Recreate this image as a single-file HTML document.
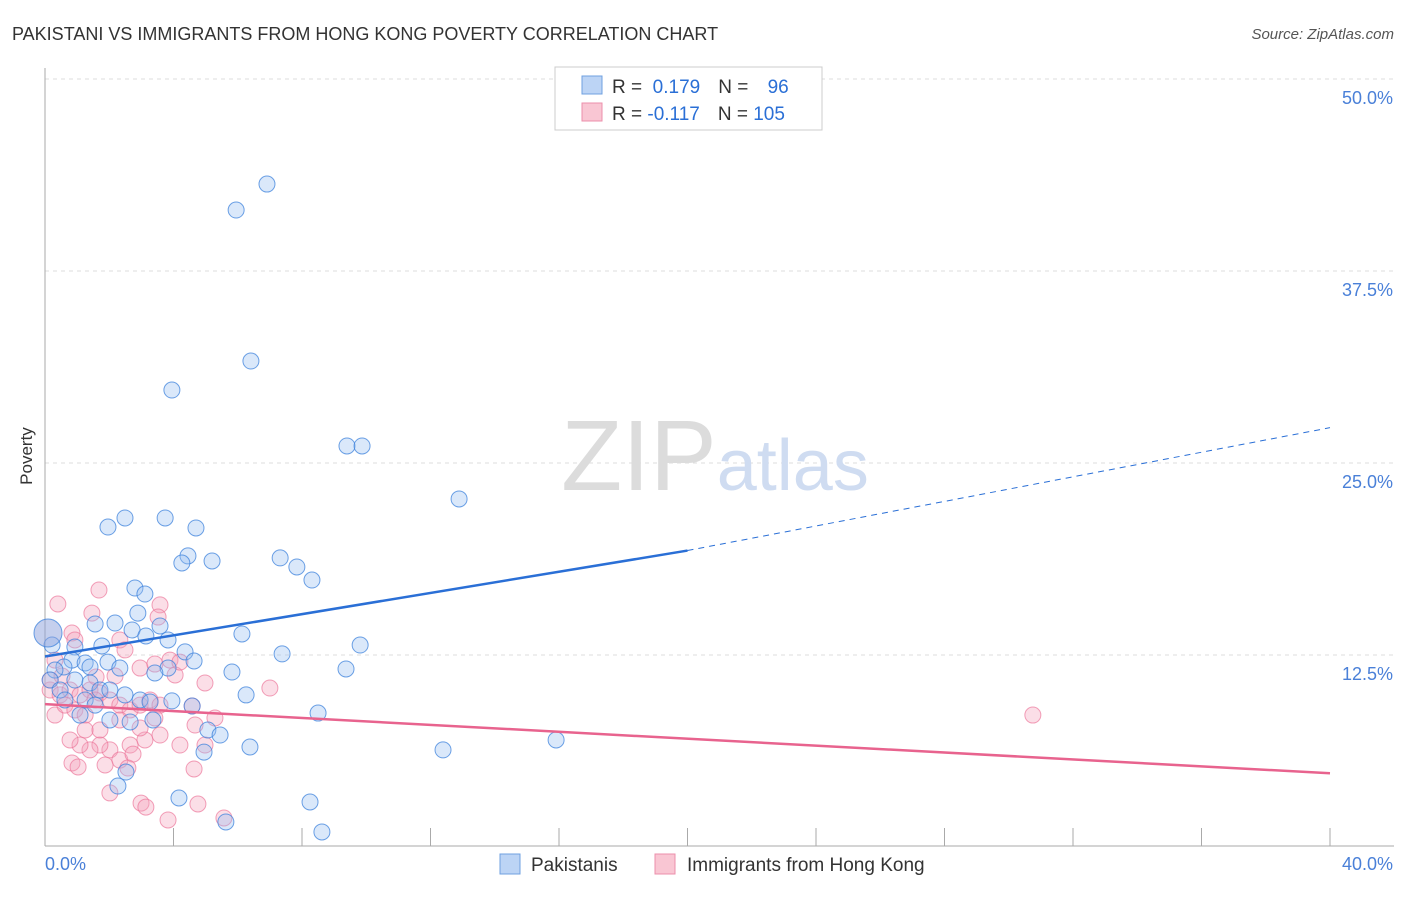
<!DOCTYPE html>
<html><head><meta charset="utf-8"><style>
body{margin:0;background:#fff;font-family:"Liberation Sans",sans-serif}
svg text{font-family:"Liberation Sans",sans-serif}
</style></head><body>
<svg width="1406" height="892">
<text x="12" y="40" font-size="18" fill="#333">PAKISTANI VS IMMIGRANTS FROM HONG KONG POVERTY CORRELATION CHART</text>
<text x="1394" y="39" font-size="15" fill="#555" text-anchor="end" font-style="italic">Source: ZipAtlas.com</text>
<g id="grid"></g>
<text x="715" y="490" font-size="100" fill="#ddd" text-anchor="middle" font-family="Liberation Serif"><tspan fill="#dcdcdc">ZIP</tspan><tspan fill="#cfdcf1" font-family="Liberation Sans" font-size="72">atlas</tspan></text>
<text x="32" y="456" font-size="17" fill="#333" text-anchor="middle" transform="rotate(-90 32 456)">Poverty</text>
<g id="pts"></g>
<g id="lines"></g>
<g>
<rect x="555" y="67" width="267" height="63" fill="#fff" stroke="#ccc"/>
<rect x="582" y="76" width="20" height="18" fill="#bcd4f5" stroke="#6fa0e0"/>
<rect x="582" y="103" width="20" height="18" fill="#f9c6d3" stroke="#ec8fab"/>
<text x="612" y="93" font-size="19" fill="#333">R = <tspan fill="#2a6fd6">&#160;0.179</tspan><tspan dx="18" fill="#333">N = </tspan><tspan dx="14" fill="#2a6fd6">96</tspan></text>
<text x="612" y="120" font-size="19" fill="#333">R = <tspan fill="#2a6fd6">-0.117</tspan><tspan dx="18" fill="#333">N = </tspan><tspan fill="#2a6fd6">105</tspan></text>
</g>
<g>
<rect x="500" y="854" width="20" height="20" fill="#bcd4f5" stroke="#6fa0e0"/>
<text x="531" y="871" font-size="19" fill="#333">Pakistanis</text>
<rect x="655" y="854" width="20" height="20" fill="#f9c6d3" stroke="#ec8fab"/>
<text x="687" y="871" font-size="19" fill="#333">Immigrants from Hong Kong</text>
</g>
</svg>
<script>
const xTicks=[0,4,8,12,16,20,24,28,32,36,40];
const yTicks=[12.5,25,37.5,50];
const yTickLabels=["12.5%","25.0%","37.5%","50.0%"];
const bluePx=[[267,184],[236,210],[251,361],[172,390],[347,446],[362,446],[459,499],[108,527],[125,518],[165,518],[196,528],[188,556],[182,563],[212,561],[280,558],[297,567],[312,580],[135,588],[145,594],[138,613],[160,626],[115,623],[132,630],[146,636],[95,624],[242,634],[360,645],[282,654],[346,669],[232,672],[168,640],[185,652],[194,661],[168,668],[155,673],[102,646],[75,647],[72,660],[64,667],[85,663],[90,667],[108,662],[120,668],[55,670],[50,680],[60,690],[75,680],[90,683],[100,690],[110,690],[125,695],[140,700],[150,702],[172,701],[192,706],[246,695],[318,713],[153,720],[130,722],[208,730],[220,735],[250,747],[204,752],[443,750],[556,740],[126,772],[118,786],[179,798],[310,802],[226,822],[322,832],[52,645],[85,700],[110,720],[95,705],[80,715],[65,700]];
const pinkPx=[[58,604],[99,590],[92,613],[160,605],[158,617],[120,640],[125,650],[72,633],[75,640],[55,660],[50,690],[60,695],[70,690],[80,695],[90,690],[100,693],[55,715],[65,705],[75,710],[85,715],[95,700],[110,700],[120,705],[130,710],[140,705],[150,700],[160,705],[170,660],[175,675],[205,683],[270,688],[192,706],[215,718],[195,725],[145,740],[160,735],[180,745],[130,745],[110,750],[100,745],[90,750],[80,745],[70,740],[85,730],[120,760],[105,765],[72,763],[78,767],[133,754],[128,768],[110,793],[141,803],[146,807],[168,820],[198,804],[224,818],[194,769],[205,745],[1033,715],[50,680],[62,676],[96,677],[115,676],[140,668],[155,664],[180,662],[120,720],[140,728],[155,718],[100,730]];
const blueX=bluePx.map(p=>+((p[0]-45)/32.125).toFixed(2));
const blueY=bluePx.map(p=>+((847-p[1])/15.36).toFixed(2));
const pinkX=pinkPx.map(p=>+((p[0]-45)/32.125).toFixed(2));
const pinkY=pinkPx.map(p=>+((847-p[1])/15.36).toFixed(2));
const blueTrend=[12.4,19.3,27.3];
const pinkTrend=[9.3,4.8];
const X=v=>45+v*32.125, Y=v=>847-v*15.36;
const NS="http://www.w3.org/2000/svg";
function mk(t,a,p){const e=document.createElementNS(NS,t);for(const k in a)e.setAttribute(k,a[k]);p.appendChild(e);return e;}
const g=document.getElementById('grid');
yTicks.forEach((v,i)=>{
 const l=mk('line',{x1:45,x2:1394,y1:Y(v),y2:Y(v),stroke:'#ddd','stroke-dasharray':'4,4'},g);
 
 
 const t=mk('text',{x:1393,y:Y(v)+25,'font-size':18,fill:'#4a80d8','text-anchor':'end'},g);t.textContent=yTickLabels[i];
 
 
});
mk('line',{x1:45,x2:45,y1:68,y2:846,stroke:'#aaa'},g);
mk('line',{x1:45,x2:1394,y1:846,y2:846,stroke:'#aaa'},g);
xTicks.forEach(v=>{const l=mk('line',{x1:X(v),x2:X(v),y1:828,y2:846,stroke:'#aaa'},g);
 
 });
let t0=mk('text',{x:45,y:870,'font-size':18,fill:'#4a80d8'},g);t0.textContent='0.0%';


let t1=mk('text',{x:1393,y:870,'font-size':18,fill:'#4a80d8','text-anchor':'end'},g);t1.textContent='40.0%';


const pg=document.getElementById('pts');
pinkX.forEach((x,i)=>{const c=mk('circle',{cx:X(x),cy:Y(pinkY[i]),r:8,fill:'rgba(244,160,185,0.35)',stroke:'rgba(236,120,155,0.7)'},pg);
 
 });
blueX.forEach((x,i)=>{const c=mk('circle',{cx:X(x),cy:Y(blueY[i]),r:8,fill:'rgba(150,190,240,0.35)',stroke:'rgba(60,130,220,0.75)'},pg);
 
 });
const big=mk('circle',{cx:48,cy:633,r:14,fill:'rgba(140,160,220,0.5)',stroke:'rgba(60,130,220,0.75)'},pg);


const lg=document.getElementById('lines');
const b1=mk('line',{x1:X(0),y1:Y(blueTrend[0]),x2:X(20),y2:Y(blueTrend[1]),stroke:'#2a6fd6','stroke-width':2.5},lg);


const b2=mk('line',{x1:X(20),y1:Y(blueTrend[1]),x2:X(40),y2:Y(blueTrend[2]),stroke:'#2a6fd6','stroke-width':1,'stroke-dasharray':'6,5'},lg);


const p1=mk('line',{x1:X(0),y1:Y(pinkTrend[0]),x2:X(40),y2:Y(pinkTrend[1]),stroke:'#e8638e','stroke-width':2.5},lg);


</script>
</body></html>
